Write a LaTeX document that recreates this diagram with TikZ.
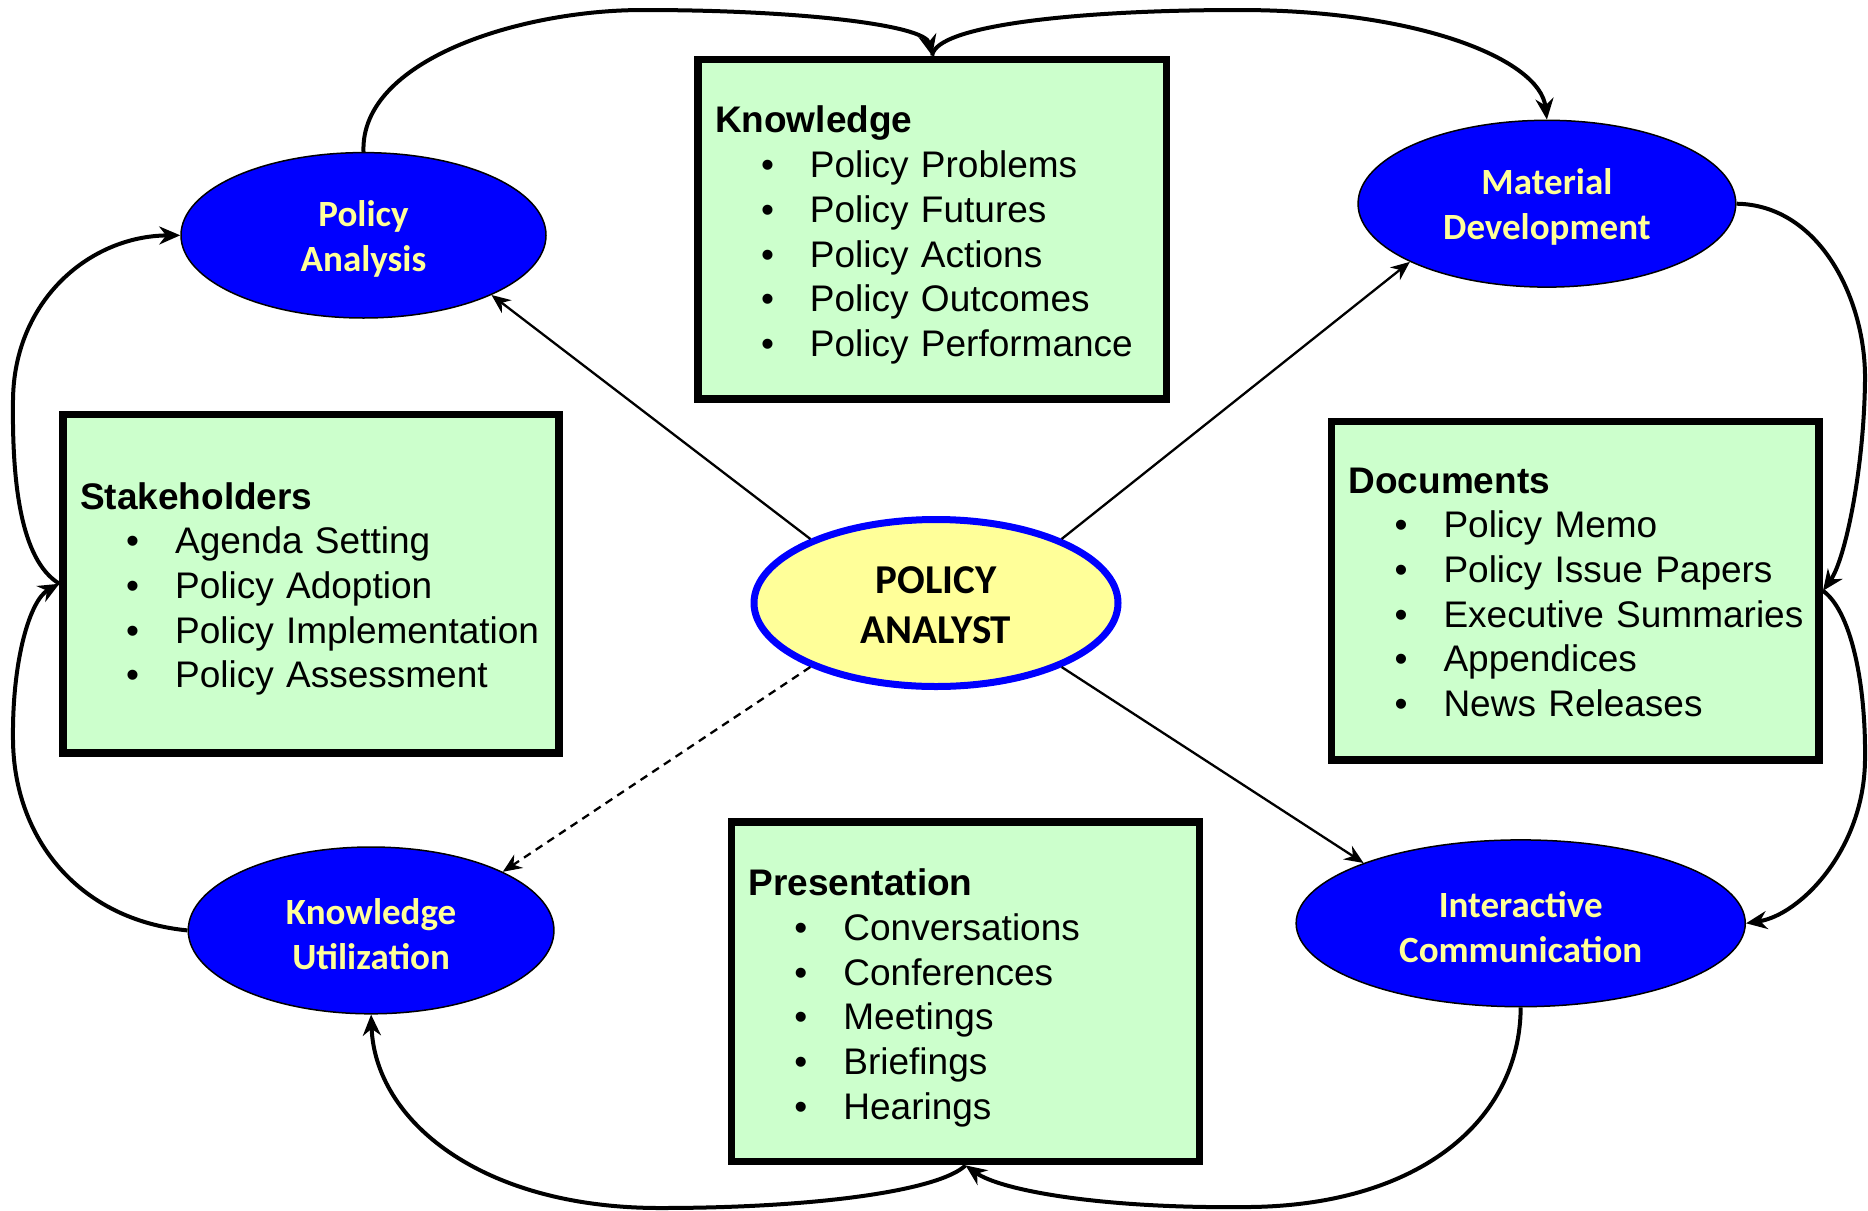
\documentclass[tikz,border=0pt]{standalone}
\usepackage{fontspec}
\setmainfont{Liberation Sans}
\newfontfamily\calib{Carlito}
\usetikzlibrary{shapes.geometric,arrows.meta}
\definecolor{boxgreen}{HTML}{CCFFCC}
\definecolor{ovalblue}{HTML}{0000FF}
\definecolor{paleyellow}{HTML}{FFFF99}
\newcommand{\bitem}[1]{\mbox{\makebox[95pt][l]{\hspace{46pt}•}#1}}
\newcommand{\hdr}[2]{\rule{0pt}{#1}\textbf{#2}}
\newcommand{\ovl}{\rule{0pt}{33pt}}
\tikzset{
  infobox/.style={rectangle, draw=black, line width=7.5pt, fill=boxgreen,
    align=left, inner xsep=17pt, inner ysep=0pt,
    font=\fontsize{37}{44.7}\selectfont},
  stageoval/.style={ellipse, draw=black, line width=1.5pt, fill=ovalblue,
    text=paleyellow, align=center, inner sep=0pt,
    font=\calib\bfseries\fontsize{37}{45}\selectfont},
  centeroval/.style={ellipse, draw=ovalblue, line width=7pt, fill=paleyellow,
    text=black, align=center, inner sep=0pt,
    font=\calib\bfseries\fontsize{41}{50}\selectfont},
  spoke/.style={line width=2.3pt, -{Stealth[length=19pt,width=16pt]}},
  cycle/.style={line width=4pt, -{Stealth[length=21pt,width=18pt]}}
}
\begin{document}
\begin{tikzpicture}[x=1pt,y=-1pt]
\useasboundingbox (0,0) rectangle (1868,1210);

% boxes
\node[infobox, minimum width=468.4pt, minimum height=339.7pt, text width=434.4pt] (know) at (932.2,229.3)
 {\hdr{38.5pt}{Knowledge}\\ \bitem{Policy Problems}\\ \bitem{Policy Futures}\\ \bitem{Policy Actions}\\ \bitem{Policy Outcomes}\\ \bitem{Policy Performance}};
\node[infobox, minimum width=495.7pt, minimum height=338.5pt, text width=461.7pt] (stake) at (311,583.75)
 {\hdr{37pt}{Stakeholders}\\ \bitem{Agenda Setting}\\ \bitem{Policy Adoption}\\ \bitem{Policy Implementation}\\ \bitem{Policy Assessment}};
\node[infobox, minimum width=487.7pt, minimum height=338.6pt, text width=453.7pt] (docs) at (1575.35,590.8)
 {\hdr{28.5pt}{Documents}\\ \bitem{Policy Memo}\\ \bitem{Policy Issue Papers}\\ \bitem{Executive Summaries}\\ \bitem{Appendices}\\ \bitem{News Releases}};
\node[infobox, minimum width=468.3pt, minimum height=339.7pt, text width=434.3pt] (pres) at (965.55,991.75)
 {\hdr{39pt}{Presentation}\\ \bitem{Conversations}\\ \bitem{Conferences}\\ \bitem{Meetings}\\ \bitem{Briefings}\\ \bitem{Hearings}};

% ovals
\node[stageoval, minimum width=365pt, minimum height=165.4pt] (analysis) at (363.5,235.3) {\ovl Policy\\Analysis};
\node[stageoval, minimum width=377.7pt, minimum height=166.8pt] (material) at (1546.9,203.7) {\ovl Material\\Development};
\node[stageoval, minimum width=365.7pt, minimum height=166.8pt] (util) at (371.1,930.4) {\ovl Knowledge\\Utilization};
\node[stageoval, minimum width=449.1pt, minimum height=166.8pt] (interact) at (1520.7,923.3) {\ovl Interactive\\Communication};
\node[centeroval, minimum width=364pt, minimum height=167pt] (analyst) at (936,603) {\rule{0pt}{32pt}POLICY\\ANALYST};

% spokes
\draw[spoke] (analyst.153.1) -- (analysis.-25.1);
\draw[spoke] (analyst.27.2) -- (material.203.8);
\draw[spoke] (analyst.-27.5) -- (interact.159.1);
\draw[spoke, dash pattern=on 8pt off 6pt] (analyst.207.2) -- (util.24.4);

% cycle
\draw[cycle] (analysis.north) .. controls (360,60) and (520,10) .. (643,10)
   .. controls (800,10) and (925,25) .. (know.north);
\draw[cycle] (know.north) .. controls (935,25) and (1080,10) .. (1239,10)
   .. controls (1420,10) and (1540,60) .. (material.north);
\draw[cycle] (material.east) .. controls (1820,205) and (1866,300) .. (1865,380)
   .. controls (1864,470) and (1845,560) .. (docs.east);
\draw[cycle] (docs.east) .. controls (1850,610) and (1866,680) .. (1865,760)
   .. controls (1864,850) and (1800,915) .. (interact.east);
\draw[cycle] (interact.south) .. controls (1520,1120) and (1420,1205) .. (1250,1207)
   .. controls (1100,1209) and (1000,1190) .. (pres.south);
\draw[cycle] (pres.south) .. controls (940,1190) and (820,1208) .. (660,1208)
   .. controls (480,1208) and (375,1120) .. (util.south);
\draw[cycle] (util.west) .. controls (80,920) and (14,840) .. (13,740)
   .. controls (12,660) and (30,600) .. (stake.west);
\draw[cycle] (stake.west) .. controls (20,560) and (12,480) .. (13,400)
   .. controls (14,300) and (90,236) .. (analysis.west);
\end{tikzpicture}
\end{document}
